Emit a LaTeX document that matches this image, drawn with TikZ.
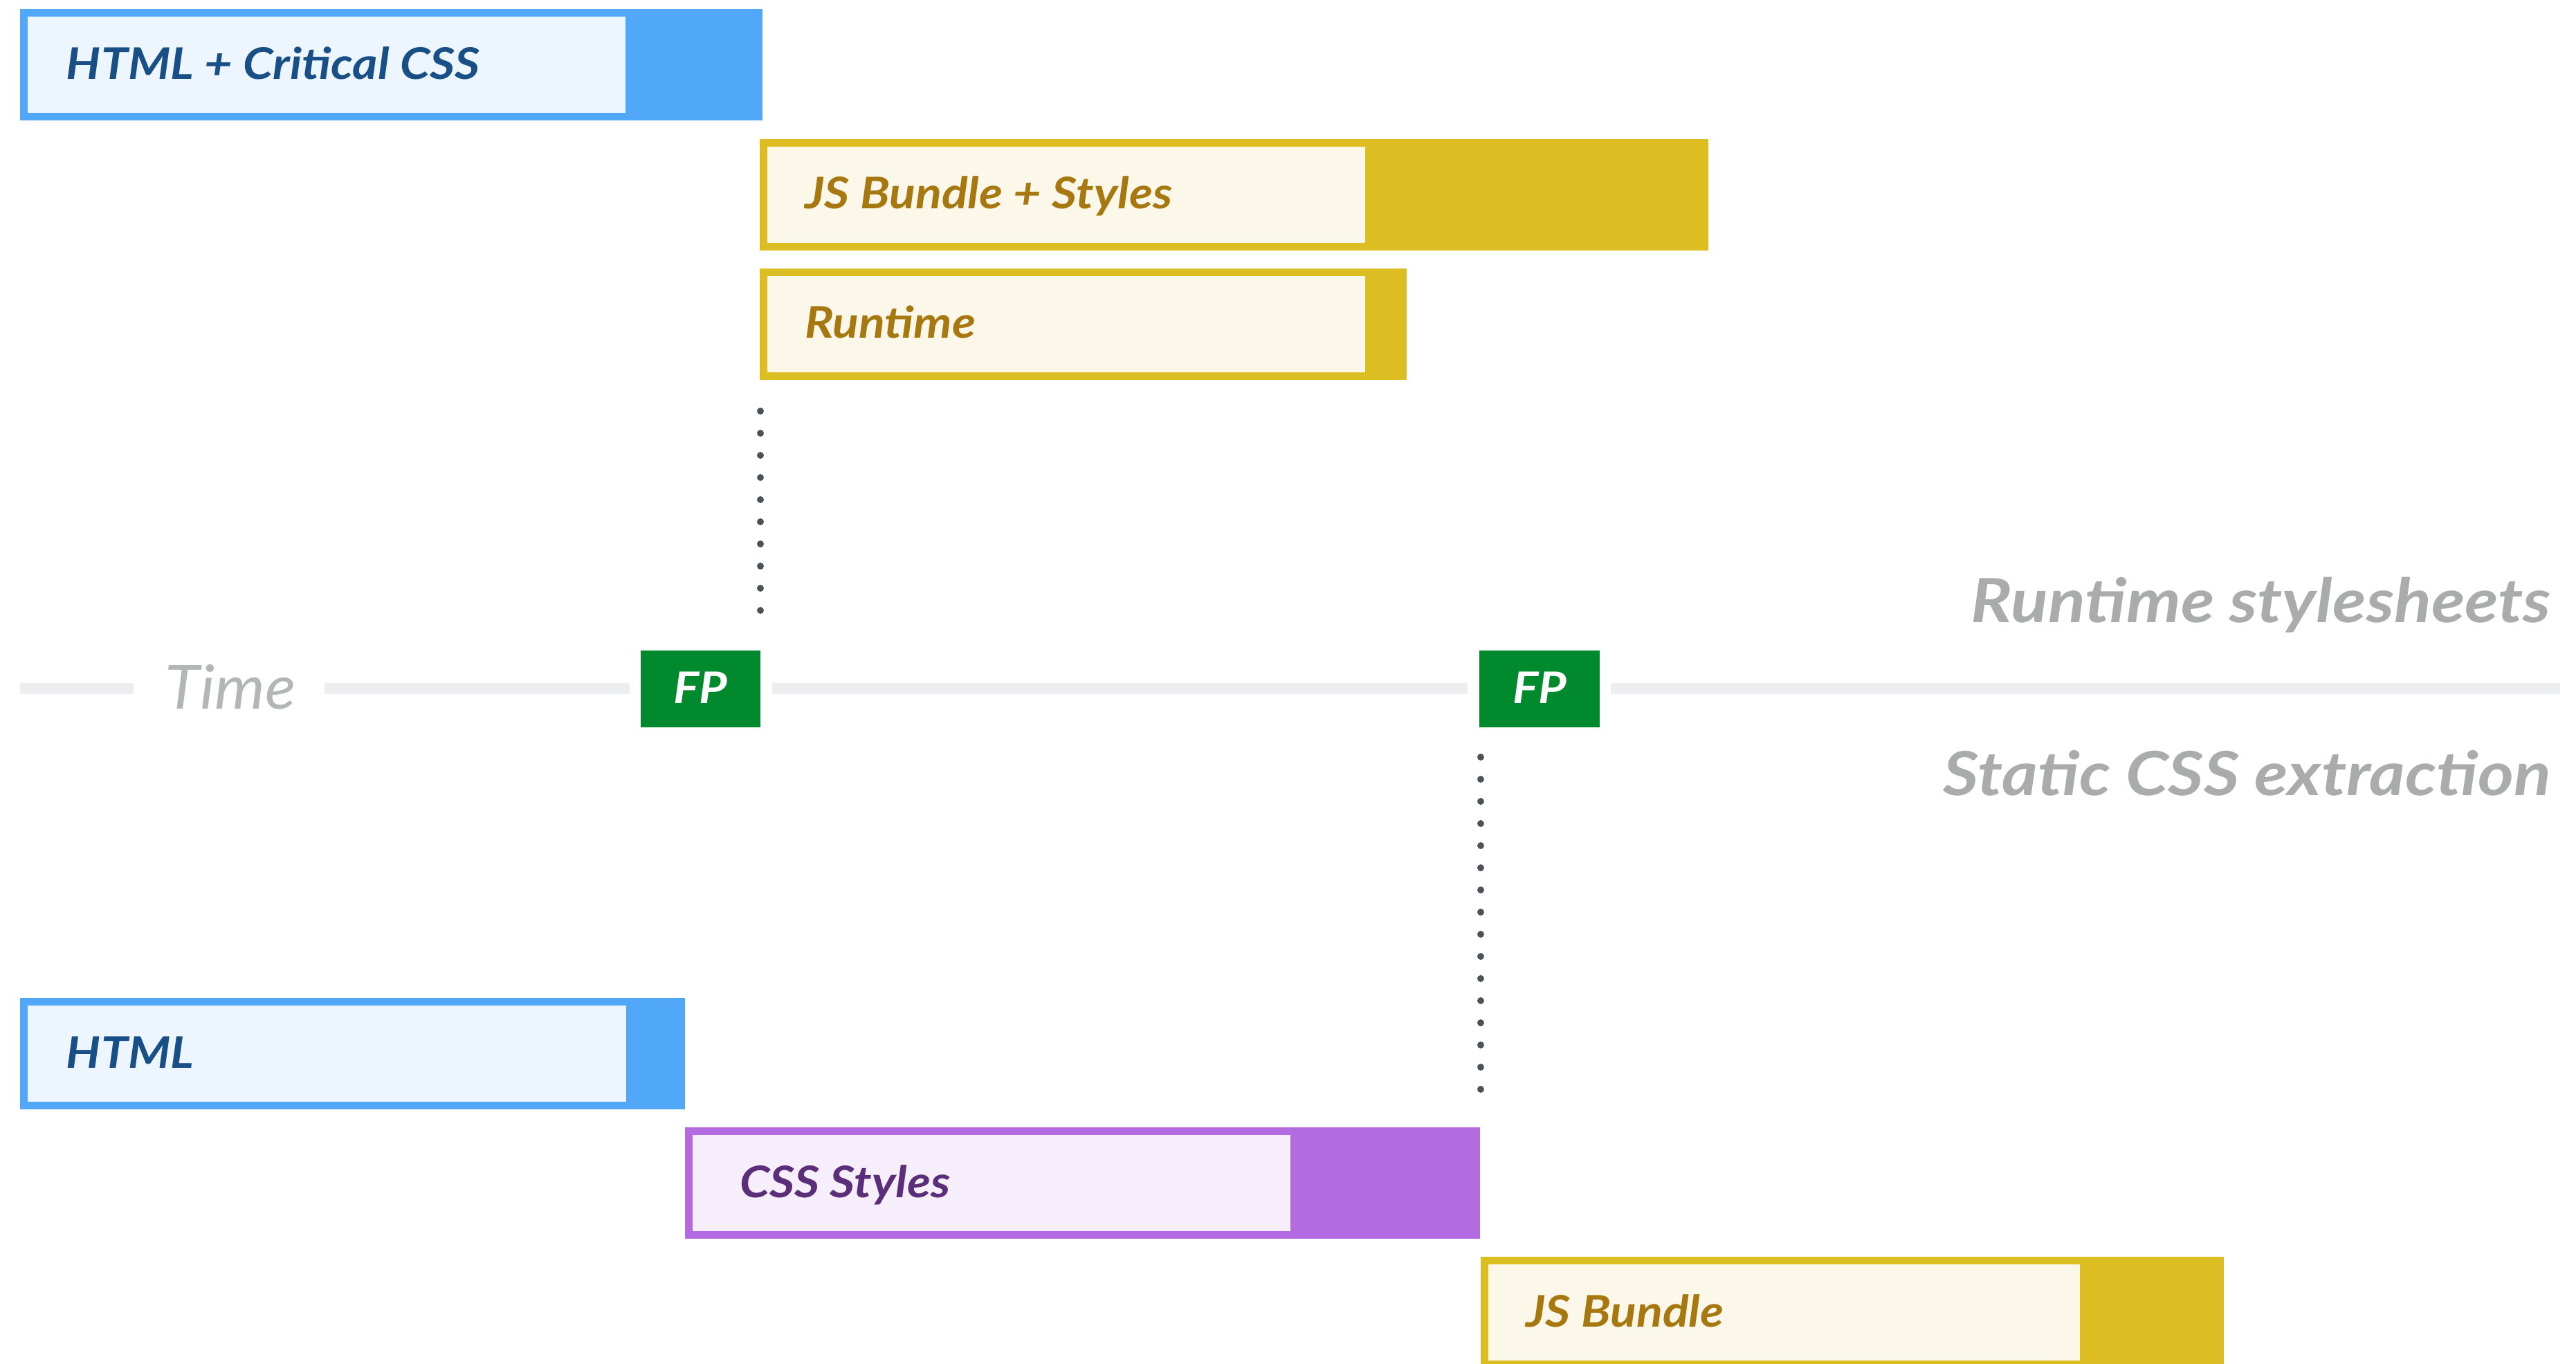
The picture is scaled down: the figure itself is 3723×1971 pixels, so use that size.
\documentclass[tikz,border=0pt]{standalone}
\usepackage{fontspec}
\newfontfamily\labelfont{Lato}[FakeStretch=1.11]
\newfontfamily\bigfont{Lato}[FakeStretch=1.13]
\newfontfamily\timefont{Lato}[FakeStretch=1.05]
\definecolor{bluedark}{HTML}{52A8F8}
\definecolor{bluelight}{HTML}{EDF5FE}
\definecolor{bluetext}{HTML}{174F86}
\definecolor{yeldark}{HTML}{DCBE23}
\definecolor{yellight}{HTML}{FBF7E9}
\definecolor{yeltext}{HTML}{A6780F}
\definecolor{purdark}{HTML}{B46BE1}
\definecolor{purlight}{HTML}{F6EEFB}
\definecolor{purtext}{HTML}{5A2E78}
\definecolor{fpgreen}{HTML}{00892D}
\definecolor{axisgray}{HTML}{EDEEEF}
\definecolor{titlegray}{HTML}{A9ACAB}
\definecolor{timegray}{HTML}{B3B6B6}
\definecolor{dotgray}{HTML}{4D5158}
\tikzset{
  barlbl/.style={font=\labelfont\bfseries\itshape\fontsize{12.6}{15}\selectfont, anchor=base west, inner sep=0pt},
  biglbl/.style={font=\bigfont\bfseries\itshape\fontsize{17.6}{20}\selectfont, anchor=base east, inner sep=0pt, text=titlegray},
  fplbl/.style={font=\labelfont\bfseries\itshape\fontsize{12.6}{15}\selectfont, anchor=base, inner sep=0pt, text=white},
  dots/.style={draw=dotgray, line width=2pt, line cap=round, dash pattern=on 0pt off 6.4pt},
}
\begin{document}
\begin{tikzpicture}[x=0.2pt,y=-0.2pt]
\useasboundingbox (0,0) rectangle (3723,1971);
% axis
\fill[axisgray] (29,987) rectangle (193,1003);
\fill[axisgray] (469,987) rectangle (910,1003);
\fill[axisgray] (1116,987) rectangle (2121,1003);
\fill[axisgray] (2328,987) rectangle (3700,1003);
% FP boxes
\fill[fpgreen] (926,940) rectangle (1099,1051);
\fill[fpgreen] (2138,940) rectangle (2312,1051);
\node[fplbl] (fp1) at (1012,1016) {FP};
\node[fplbl] (fp2) at (2225,1016) {FP};
\node[font=\timefont\itshape\fontsize{17.6}{20}\selectfont, anchor=base, inner sep=0pt, text=timegray] (time) at (333,1024) {Time};
\node[biglbl] (rt) at (3688,899) {Runtime stylesheets};
\node[biglbl] (sc) at (3688,1149) {Static CSS extraction};
% top bars
\fill[bluedark] (29,13) rectangle (1102,174);
\fill[bluelight] (40,24) rectangle (904,163);
\node[barlbl, text=bluetext] (b1) at (95,115) {HTML + Critical CSS};
\fill[yeldark] (1098,201) rectangle (2469,362);
\fill[yellight] (1109,212) rectangle (1973,351);
\node[barlbl, text=yeltext] (b2) at (1162,302) {JS Bundle + Styles};
\fill[yeldark] (1098,388) rectangle (2033,549);
\fill[yellight] (1109,399) rectangle (1973,538);
\node[barlbl, text=yeltext] (b3) at (1162,489) {Runtime};
% bottom bars
\fill[bluedark] (29,1442) rectangle (990,1603);
\fill[bluelight] (40,1453) rectangle (905,1592);
\node[barlbl, text=bluetext] (b4) at (95,1543) {HTML};
\fill[purdark] (990,1629) rectangle (2139,1790);
\fill[purlight] (1001,1640) rectangle (1865,1779);
\node[barlbl, text=purtext] (b5) at (1068,1730) {CSS Styles};
\fill[yeldark] (2140,1816) rectangle (3214,1977);
\fill[yellight] (2151,1827) rectangle (3006,1966);
\node[barlbl, text=yeltext] (b6) at (2204,1917) {JS Bundle};
% dotted markers
\coordinate (d1a) at (1099,594);
\coordinate (d1b) at (1099,888);
\coordinate (d2a) at (2140,1094);
\coordinate (d2b) at (2140,1580);
\draw[dots] (d1a) -- (d1b);
\draw[dots] (d2a) -- (d2b);
\end{tikzpicture}
\end{document}
